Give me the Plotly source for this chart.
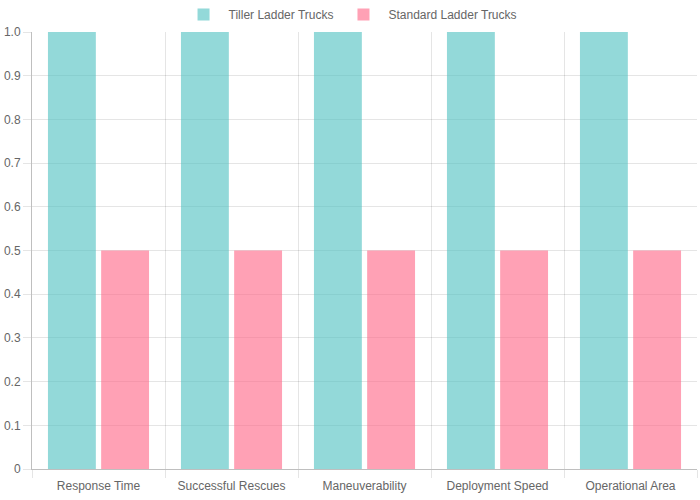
import plotly.graph_objects as go

categories = ["Response Time", "Successful Rescues", "Maneuverability", "Deployment Speed", "Operational Area"]
tiller = [1, 1, 1, 1, 1]
standard = [0.5, 0.5, 0.5, 0.5, 0.5]
ytick_vals = [0, 0.1, 0.2, 0.3, 0.4, 0.5, 0.6, 0.7, 0.8, 0.9, 1.0]
ytick_text = ["0", "0.1", "0.2", "0.3", "0.4", "0.5", "0.6", "0.7", "0.8", "0.9", "1.0"]

fig = go.Figure()
fig.add_trace(go.Bar(x=categories, y=tiller, name="Tiller Ladder Trucks",
                     marker=dict(color="rgba(75,192,192,0.6)", line=dict(width=0))))
fig.add_trace(go.Bar(x=categories, y=standard, name="Standard Ladder Trucks",
                     marker=dict(color="rgba(255,99,132,0.6)", line=dict(width=0))))

fig.update_layout(
    width=700, height=500,
    margin=dict(l=32, r=3, t=32, b=31, autoexpand=False),
    paper_bgcolor="white", plot_bgcolor="white",
    barmode="group", bargap=0.2, bargroupgap=0.1,
    font=dict(family="Liberation Sans, Arial, sans-serif", size=12, color="#666"),
    legend=dict(orientation="h", x=0.479, xanchor="center",
                yref="container", y=1.0, yanchor="top", bgcolor="rgba(0,0,0,0)",
                font=dict(size=12, color="#666"), itemwidth=40),
    showlegend=True,
)
fig.update_xaxes(
    showgrid=True, gridcolor="rgba(0,0,0,0.1)", tickson="boundaries",
    ticks="outside", ticklen=8, tickcolor="rgba(0,0,0,0.1)",
    showline=True, linecolor="rgba(0,0,0,0.25)", linewidth=1,
    tickfont=dict(size=12, color="#666"), ticklabelstandoff=6,
)
fig.update_yaxes(
    range=[0, 1], tickvals=ytick_vals, ticktext=ytick_text,
    showgrid=True, gridcolor="rgba(0,0,0,0.1)",
    ticks="outside", ticklen=8, tickcolor="rgba(0,0,0,0.1)",
    showline=True, linecolor="rgba(0,0,0,0.25)", linewidth=1,
    zeroline=False, tickfont=dict(size=12, color="#666"),
)

fig.write_html("out.html")
